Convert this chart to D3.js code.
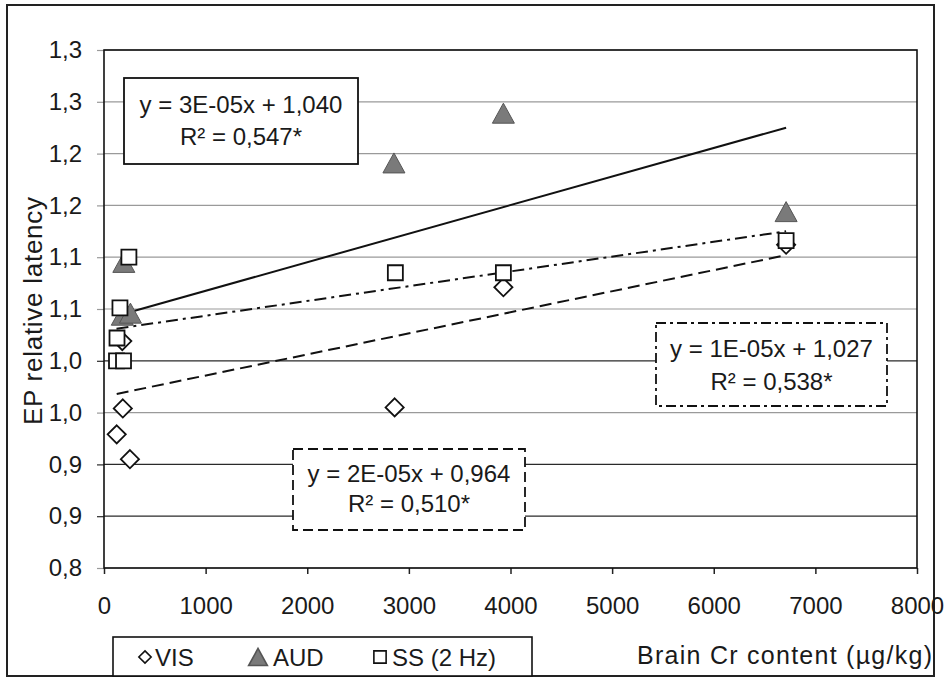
<!DOCTYPE html>
<html>
<head>
<meta charset="utf-8">
<title>EP relative latency vs brain Cr</title>
<style>
  body { margin: 0; background: #fff; }
  svg text { font-family: Arial, "Liberation Sans", sans-serif; fill: #1a1a1a; }
  .axis text { font-size: 24px; }
  .axis path { display: none; }
  .x.axis line { stroke: #222; stroke-width: 1.5; }
  .y.axis line { stroke: #9a9a9a; stroke-width: 1.2; }
  .grid line { stroke: #9a9a9a; stroke-width: 1.2; }
  .grid line.dark, .y.axis line.dark { stroke: #2a2a2a; }
</style>
</head>
<body>
<script src="https://cdn.jsdelivr.net/npm/d3@7"></script>
<script>
    /*========= DATA =========*/
    var visX = [125, 185, 255, 180, 2860, 3930, 6712];
    var visY = [0.929, 0.954, 0.905, 1.019, 0.955, 1.071, 1.112];

    var audX = [195, 180, 260, 2853, 3930, 6712];
    var audY = [1.095, 1.044, 1.046, 1.191, 1.239, 1.144];

    var ssX = [245, 157, 128, 123, 192, 2867, 3930, 6712];
    var ssY = [1.100, 1.051, 1.022, 1.000, 1.000, 1.085, 1.085, 1.116];

    // trend lines, end points
    var visTrend = [[125, 0.968], [6712, 1.102]];
    var audTrend = [[180, 1.045], [6712, 1.225]];
    var ssTrend = [[123, 1.031], [6712, 1.125]];

    var seriesNames = ["VIS", "AUD", "SS (2 Hz)"];
    var eqLines = ["y = 2E-05x + 0,964", "y = 3E-05x + 1,040", "y = 1E-05x + 1,027"];
    var r2Lines = ["R\u00b2 = 0,510*", "R\u00b2 = 0,547*", "R\u00b2 = 0,538*"];

    var xTicks = [0, 1000, 2000, 3000, 4000, 5000, 6000, 7000, 8000];
    var yTicks = [0.80, 0.85, 0.90, 0.95, 1.00, 1.05, 1.10, 1.15, 1.20, 1.25, 1.30];
    var yTickLabels = ["0,8", "0,9", "0,9", "1,0", "1,0", "1,1", "1,1", "1,2", "1,2", "1,3", "1,3"];

    var xTitle = "Brain Cr content (\u00b5g/kg)";
    var yTitle = "EP relative latency";

    /*========= SIZE =========*/
    var svgWidth = 944, svgHeight = 680;
    var margin = { top: 50, right: 27, bottom: 112, left: 104 };
    var width = svgWidth - margin.left - margin.right;
    var height = svgHeight - margin.top - margin.bottom;

    var xScale = d3.scaleLinear().domain([0, 8000]).range([0, width]);
    var yScale = d3.scaleLinear().domain([0.8, 1.3]).range([height, 0]);

    // the scan prints these grid lines darker than the rest
    var darkGrid = [0.85, 0.90, 1.00];
    var isDark = d => darkGrid.some(v => Math.abs(v - d) < 1e-6);

    // markers, centred on their box
    var diamond = { draw: function (ctx, s) { var r = Math.sqrt(s) / 2; ctx.moveTo(0, -r); ctx.lineTo(r, 0); ctx.lineTo(0, r); ctx.lineTo(-r, 0); ctx.closePath(); } };
    var triangle = { draw: function (ctx, s) { var r = Math.sqrt(s) / 2; ctx.moveTo(0, -r); ctx.lineTo(r * 1.1, r); ctx.lineTo(-r * 1.1, r); ctx.closePath(); } };
    var square = { draw: function (ctx, s) { var r = Math.sqrt(s) / 2; ctx.rect(-r, -r, 2 * r, 2 * r); } };

    var svg = d3.select("body").append("svg").attr("width", svgWidth).attr("height", svgHeight);

    // outer frame
    svg.append("rect").attr("x", 7).attr("y", 5).attr("width", 927).attr("height", 671)
        .attr("fill", "none").attr("stroke", "#222").attr("stroke-width", 2);

    var focus = svg.append("g").attr("transform", "translate(" + margin.left + "," + margin.top + ")");

    // grid
    focus.append("g").attr("class", "grid").selectAll("line").data(yTicks).enter().append("line")
        .classed("dark", isDark)
        .attr("x1", 0).attr("x2", width)
        .attr("y1", d => yScale(d)).attr("y2", d => yScale(d));

    // axes
    var xAxis = d3.axisBottom(xScale).tickValues(xTicks).tickSize(6).tickPadding(23).tickFormat(d3.format("d"));
    var yAxis = d3.axisLeft(yScale).tickValues(yTicks).tickSize(7).tickPadding(15)
        .tickFormat((d, i) => yTickLabels[i]);

    focus.append("g").attr("class", "x axis").attr("transform", "translate(0," + height + ")").call(xAxis);
    var yG = focus.append("g").attr("class", "y axis").call(yAxis);
    yG.selectAll(".tick line").classed("dark", isDark);

    // plot border
    focus.append("rect").attr("width", width).attr("height", height)
        .attr("fill", "none").attr("stroke", "#111").attr("stroke-width", 1.6);

    // trend lines
    var line = d3.line().x(d => xScale(d[0])).y(d => yScale(d[1]));
    var trendG = focus.append("g").attr("fill", "none").attr("stroke", "#111").attr("stroke-width", 2);
    trendG.append("path").attr("d", line(visTrend)).attr("stroke-dasharray", "12,6");
    trendG.append("path").attr("d", line(audTrend));
    trendG.append("path").attr("d", line(ssTrend)).attr("stroke-dasharray", "12,5,3,5");

    // equation boxes
    var boxes = [
        { x: 293, y: 449, w: 232, h: 81, dash: "10,5", b1: 482, b2: 512 },
        { x: 124, y: 78, w: 234, h: 86, dash: null, b1: 113, b2: 145 },
        { x: 656, y: 323, w: 231, h: 83, dash: "10,4,3,4", b1: 357, b2: 390 }
    ];
    boxes.forEach(function (b, i) {
        var g = svg.append("g");
        g.append("rect").attr("x", b.x).attr("y", b.y).attr("width", b.w).attr("height", b.h)
            .attr("fill", "#fff").attr("stroke", "#111").attr("stroke-width", 1.8)
            .attr("stroke-dasharray", b.dash);
        g.append("text").attr("x", b.x + b.w / 2).attr("y", b.b1).attr("text-anchor", "middle")
            .attr("font-size", 24).text(eqLines[i]);
        g.append("text").attr("x", b.x + b.w / 2).attr("y", b.b2).attr("text-anchor", "middle")
            .attr("font-size", 24).text(r2Lines[i]);
    });

    // points
    var pts = focus.append("g");
    pts.selectAll(".vis").data(d3.zip(visX, visY)).enter().append("path").attr("class", "vis")
        .attr("transform", d => "translate(" + xScale(d[0]) + "," + yScale(d[1]) + ")")
        .attr("d", d3.symbol().type(diamond).size(330))
        .attr("fill", "#fff").attr("stroke", "#111").attr("stroke-width", 1.8);
    pts.selectAll(".aud").data(d3.zip(audX, audY)).enter().append("path").attr("class", "aud")
        .attr("transform", d => "translate(" + xScale(d[0]) + "," + yScale(d[1]) + ")")
        .attr("d", d3.symbol().type(triangle).size(400))
        .attr("fill", "#7a7a7a").attr("stroke", "#555").attr("stroke-width", 1);
    pts.selectAll(".ss").data(d3.zip(ssX, ssY)).enter().append("path").attr("class", "ss")
        .attr("transform", d => "translate(" + xScale(d[0]) + "," + yScale(d[1]) + ")")
        .attr("d", d3.symbol().type(square).size(225))
        .attr("fill", "#fff").attr("stroke", "#111").attr("stroke-width", 1.8);

    // axis titles
    svg.append("text").attr("transform", "translate(42,311) rotate(-90)")
        .attr("text-anchor", "middle").attr("font-size", 26)
        .attr("textLength", 228).attr("lengthAdjust", "spacing").text(yTitle);
    svg.append("text").attr("x", 637).attr("y", 664).attr("font-size", 25)
        .attr("textLength", 295).attr("lengthAdjust", "spacing").text(xTitle);

    // legend
    var leg = svg.append("g");
    leg.append("rect").attr("x", 113).attr("y", 637).attr("width", 419).attr("height", 39)
        .attr("fill", "#fff").attr("stroke", "#111").attr("stroke-width", 1.6);
    var legItems = [
        { sym: diamond, size: 150, fill: "#fff", stroke: "#111", mx: 145, tx: 155 },
        { sym: triangle, size: 290, fill: "#7a7a7a", stroke: "#555", mx: 258, tx: 273 },
        { sym: square, size: 150, fill: "#fff", stroke: "#111", mx: 380, tx: 392 }
    ];
    legItems.forEach(function (it, i) {
        leg.append("path").attr("transform", "translate(" + it.mx + ",657)")
            .attr("d", d3.symbol().type(it.sym).size(it.size))
            .attr("fill", it.fill).attr("stroke", it.stroke).attr("stroke-width", 1.6);
        leg.append("text").attr("x", it.tx).attr("y", 666).attr("font-size", 24).text(seriesNames[i]);
    });
</script>
</body>
</html>
